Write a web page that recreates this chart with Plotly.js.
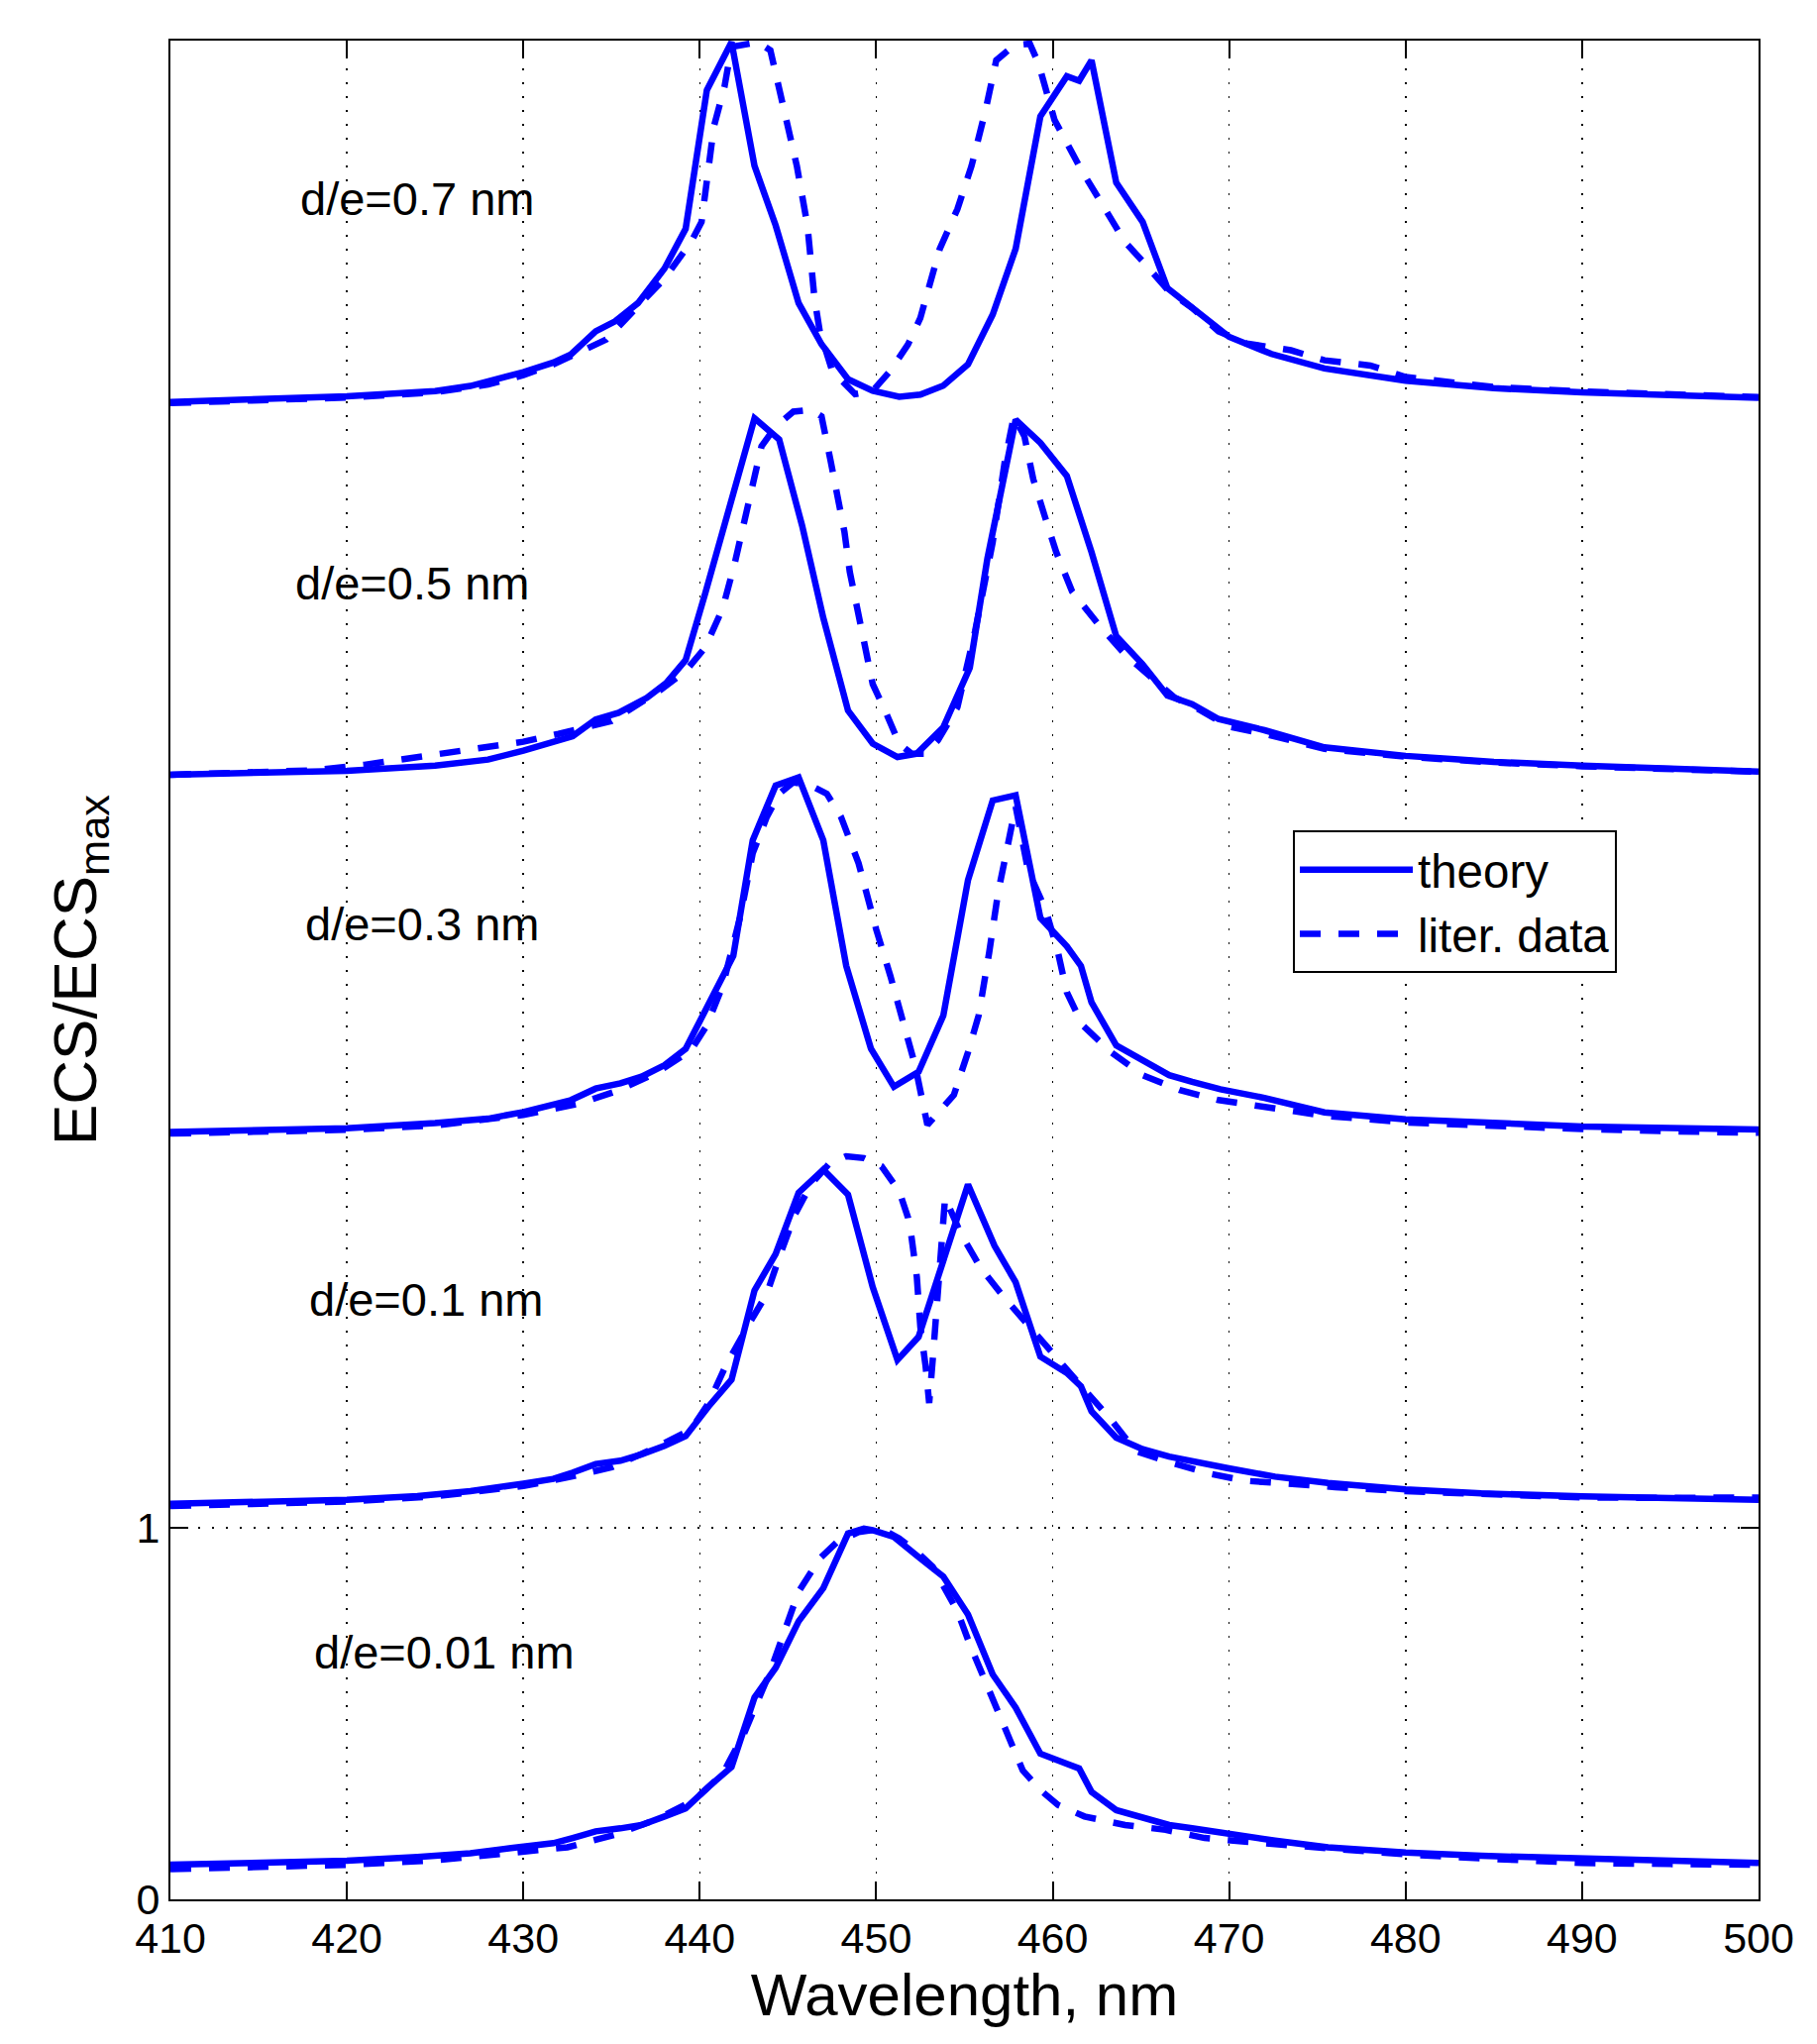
<!DOCTYPE html>
<html>
<head>
<meta charset="utf-8">
<script src="https://cdn.plot.ly/plotly-3.0.1.min.js"></script>
<style>html,body{margin:0;padding:0;background:#fff;}</style>
</head>
<body>
<div id="chart" style="width:1834px;height:2063px;"></div>
<script>
// ---- data (wavelength nm, offset normalized ECS) ----
const x001T = [410,414,420,424,427,429.3,431.7,432.8,434.1,435.5,436.7,438.0,439.2,440.5,441.8,443.1,444.3,445.6,447.0,448.4,449.3,449.8,451.0,452.4,453.8,455.2,456.6,457.9,459.3,461.5,462.2,463.6,465.1,466.6,467.9,469.6,471.1,472.6,475.6,480.0,484.3,490.0,494.3,500.0];
const y001T = [0.093,0.097,0.104,0.114,0.124,0.138,0.151,0.165,0.183,0.191,0.200,0.223,0.245,0.303,0.356,0.543,0.623,0.748,0.837,0.984,0.997,0.993,0.975,0.921,0.868,0.766,0.605,0.516,0.392,0.352,0.289,0.240,0.218,0.200,0.191,0.178,0.169,0.158,0.140,0.126,0.117,0.110,0.104,0.098];
const x001D = [410,415,420,425,430,432.5,435.2,437.5,439.7,441.3,442.5,443.2,444.0,444.8,445.6,446.8,447.8,449.0,450.3,451.3,452.3,453.2,453.8,454.6,455.3,456.0,456.6,457.4,458.3,459.3,460.3,461.8,464.1,466.4,468.6,470.9,475.6,480.0,484.3,490.0,495,500];
const y001D = [0.081,0.086,0.093,0.105,0.126,0.140,0.174,0.214,0.267,0.338,0.445,0.525,0.614,0.721,0.828,0.917,0.962,0.988,0.997,0.971,0.935,0.895,0.846,0.775,0.686,0.605,0.534,0.445,0.347,0.294,0.254,0.223,0.200,0.187,0.165,0.155,0.138,0.121,0.110,0.098,0.095,0.093];

const x01T = [410,415,420,424,427,430,431.7,432.8,434.1,435.5,436.7,438.0,439.2,440.5,441.8,443.1,444.3,445.6,447.0,448.4,449.8,451.2,452.4,453.8,455.2,456.7,457.9,459.3,460.8,461.6,462.2,463.6,465.1,466.6,467.9,469.9,472.6,475.6,480.0,484.3,490.0,494.3,500.0];
const y01T = [1.064,1.069,1.075,1.085,1.098,1.118,1.131,1.148,1.171,1.180,1.197,1.220,1.246,1.326,1.398,1.638,1.736,1.901,1.963,1.896,1.647,1.451,1.513,1.718,1.923,1.758,1.660,1.460,1.416,1.380,1.313,1.242,1.211,1.191,1.178,1.160,1.137,1.120,1.103,1.092,1.084,1.081,1.075];
const x01D = [410,415,420,425,430,432.5,435.0,437.5,439.5,440.5,441.5,442.8,443.8,444.5,445.4,446.3,447.3,448.3,449.3,450.3,451.3,451.8,452.0,452.3,452.5,452.8,453.0,453.2,453.4,453.7,453.9,454.8,455.9,457.3,458.7,460.3,461.8,463.3,464.7,466.7,469.0,470.9,473,476,480,485,490,495,500];
const y01D = [1.058,1.064,1.070,1.084,1.112,1.135,1.162,1.215,1.264,1.335,1.438,1.549,1.629,1.727,1.843,1.923,1.977,1.999,1.994,1.972,1.905,1.834,1.781,1.674,1.540,1.433,1.335,1.451,1.576,1.718,1.887,1.790,1.700,1.616,1.540,1.447,1.371,1.291,1.206,1.175,1.144,1.126,1.118,1.109,1.098,1.090,1.081,1.080,1.081];

const x03T = [410,415,420,425,428,430,431.7,432.7,434.1,435.5,436.7,438.0,439.2,440.5,441.9,443.0,444.3,445.6,447.0,448.3,449.7,451.0,452.4,453.8,455.2,456.6,457.9,459.3,460.8,461.6,462.2,463.6,465.1,466.6,467.9,469.5,472,475.4,480,485,490,495,500];
const y03T = [2.064,2.068,2.074,2.088,2.100,2.118,2.137,2.150,2.181,2.195,2.213,2.244,2.288,2.404,2.538,2.849,2.996,3.018,2.849,2.511,2.288,2.186,2.226,2.377,2.742,2.956,2.970,2.640,2.564,2.511,2.413,2.297,2.257,2.217,2.199,2.179,2.156,2.117,2.098,2.087,2.079,2.075,2.071];
const x03D = [410,415,420,425,430,433.2,435.2,437.5,439.5,440.4,441.3,442.3,443.0,443.8,444.5,445.3,446.3,447.2,448.0,449.0,450.0,450.8,451.5,452.2,452.9,453.6,454.4,455.2,455.8,456.4,456.9,457.4,457.9,458.6,459.6,460.3,460.8,461.7,463.3,465.1,467.2,469.4,472,475.4,480,485,490,495,500];
const y03D = [2.060,2.064,2.070,2.082,2.110,2.141,2.173,2.222,2.284,2.351,2.458,2.645,2.814,2.912,2.974,3.005,2.996,2.974,2.912,2.787,2.609,2.484,2.360,2.244,2.083,2.119,2.164,2.279,2.377,2.547,2.707,2.823,2.940,2.769,2.662,2.547,2.440,2.351,2.279,2.217,2.177,2.150,2.132,2.108,2.090,2.080,2.072,2.066,2.062];

const x05T = [410,415,420,425,428,430,431.7,432.8,434.1,435.4,437.0,438.1,439.2,440.3,443.1,444.5,445.8,447.0,448.4,449.8,451.2,452.3,453.8,455.3,456.3,457.2,457.9,459.3,460.8,462.2,463.6,465.1,466.5,467.9,469.4,472,475.4,480,485,490,495,500];
const y05T = [3.025,3.030,3.036,3.050,3.066,3.090,3.112,3.129,3.174,3.192,3.232,3.272,3.334,3.512,3.984,3.927,3.695,3.447,3.198,3.109,3.073,3.082,3.153,3.313,3.607,3.829,3.980,3.918,3.829,3.624,3.398,3.322,3.238,3.215,3.175,3.145,3.099,3.076,3.060,3.050,3.042,3.034];
const x05D = [410,415,418,421,424,427,430,432,435.0,437.7,439.2,440.3,441.3,442.0,442.8,443.5,444.3,445.3,446.3,446.9,447.4,447.8,448.2,448.5,449.0,449.8,450.5,451.3,452.0,452.8,453.5,454.6,455.6,456.6,457.3,457.8,458.4,458.9,459.6,460.2,461.1,462.6,464.1,465.6,466.9,468.4,469.9,472,475.4,480,485,490,495,500];
const y05D = [3.025,3.031,3.037,3.052,3.072,3.092,3.114,3.135,3.170,3.251,3.304,3.367,3.473,3.598,3.758,3.909,3.962,4.002,4.007,3.989,3.873,3.784,3.678,3.571,3.447,3.269,3.198,3.109,3.082,3.082,3.118,3.207,3.411,3.651,3.873,3.989,3.935,3.820,3.713,3.624,3.518,3.429,3.349,3.287,3.233,3.198,3.156,3.135,3.095,3.074,3.058,3.048,3.040,3.033];

const x07T = [410,415,420,425,427,430,431.7,432.7,434.1,435.2,436.5,438.0,439.2,440.4,441.8,443.1,444.3,445.6,446.9,448.4,449.8,451.3,452.5,453.8,455.2,456.6,457.9,459.3,460.8,461.5,462.2,463.6,465.1,466.5,467.9,469.4,470,472.4,475.4,480,485,490,495.5,500];
const y07T = [4.028,4.034,4.043,4.057,4.071,4.108,4.134,4.156,4.218,4.245,4.294,4.387,4.494,4.867,4.996,4.663,4.503,4.294,4.183,4.089,4.058,4.042,4.048,4.072,4.129,4.263,4.440,4.796,4.904,4.892,4.947,4.618,4.512,4.334,4.281,4.222,4.203,4.157,4.118,4.085,4.065,4.054,4.045,4.039];
const x07D = [410,415,420,425,428,430,431.7,434.7,436.2,438.0,439.5,440.1,440.8,441.4,441.8,443.3,444.0,444.5,445.5,446.1,446.5,446.8,447.5,448.8,449.8,450.8,451.8,452.5,453.6,454.6,455.4,456.2,456.8,457.8,458.7,459.2,460.1,461.6,462.8,464.1,465.3,466.6,467.9,469.4,471,473.5,475.4,478,480,485,490,495,500];
const y07D = [4.025,4.032,4.040,4.054,4.075,4.100,4.129,4.196,4.272,4.360,4.458,4.512,4.769,4.876,4.983,4.996,4.974,4.876,4.663,4.503,4.307,4.218,4.112,4.049,4.058,4.112,4.183,4.254,4.440,4.547,4.663,4.814,4.947,4.987,4.992,4.938,4.787,4.654,4.556,4.458,4.396,4.325,4.281,4.218,4.185,4.167,4.140,4.126,4.095,4.068,4.056,4.048,4.041];

const xTickVals = [410,420,430,440,450,460,470,480,490,500];
const yTickVals = [0,1];
const yTickText = ['0','1'];
const seriesNames = ['theory','liter. data'];
const labelTexts = ['d/e=0.7 nm','d/e=0.5 nm','d/e=0.3 nm','d/e=0.1 nm','d/e=0.01 nm'];
const labelX = [417.24,416.96,417.52,417.75,418.03];
const labelY = [4.574,3.542,2.623,1.615,0.666];

// ---- build traces ----
const BLUE = '#0000FF';
const FONT = 'Liberation Sans, Arial, Helvetica, sans-serif';
const theorySets = [[x001T,y001T],[x01T,y01T],[x03T,y03T],[x05T,y05T],[x07T,y07T]];
const dataSets = [[x001D,y001D],[x01D,y01D],[x03D,y03D],[x05D,y05D],[x07D,y07D]];
const traces = [];
theorySets.forEach((s,i)=>{
  traces.push({x:s[0],y:s[1],type:'scatter',mode:'lines',name:seriesNames[0],
    legendgroup:'t',showlegend:i===0,line:{color:BLUE,width:6.5}});
});
dataSets.forEach((s,i)=>{
  traces.push({x:s[0],y:s[1],type:'scatter',mode:'lines',name:seriesNames[1],
    legendgroup:'d',showlegend:i===0,line:{color:BLUE,width:6.5,dash:'21px,18px'}});
});

const annotations = labelTexts.map((t,i)=>({
  x:labelX[i], y:labelY[i], xref:'x', yref:'y', text:t, showarrow:false,
  xanchor:'left', yanchor:'middle', font:{family:FONT,size:47,color:'#000'}
}));

const layout = {
  width:1834, height:2063,
  margin:{l:172,r:59,t:41,b:146},
  paper_bgcolor:'#fff', plot_bgcolor:'#fff',
  showlegend:true,
  legend:{x:0.7068,y:0.575,xanchor:'left',yanchor:'top',
    bgcolor:'#fff',bordercolor:'#000',borderwidth:2,
    font:{family:FONT,size:47.5,color:'#000'},itemwidth:114,tracegroupgap:0},
  xaxis:{range:[410,500],tickvals:xTickVals,ticks:'inside',ticklen:18,tickwidth:2,tickcolor:'#000',
    showline:true,linecolor:'#000',linewidth:2,mirror:'ticks',
    showgrid:true,gridcolor:'#000',gridwidth:1.5,griddash:'2px,12px',zeroline:false,
    tickfont:{family:FONT,size:43,color:'#000'},
    title:{text:'Wavelength, nm',font:{family:FONT,size:60,color:'#000'},standoff:10}},
  yaxis:{range:[0,5],tickvals:yTickVals,ticktext:yTickText,ticks:'inside',ticklen:18,tickwidth:2,tickcolor:'#000',
    showline:true,linecolor:'#000',linewidth:2,mirror:'ticks',
    showgrid:true,gridcolor:'#000',gridwidth:1.5,griddash:'2px,12px',zeroline:false,
    tickfont:{family:FONT,size:43,color:'#000'},
    title:{text:'ECS/ECS<sub>max</sub>',font:{family:FONT,size:62,color:'#000'},standoff:20}},
  annotations:annotations
};

Plotly.newPlot('chart',traces,layout,{displayModeBar:false,staticPlot:true});
</script>
</body>
</html>
